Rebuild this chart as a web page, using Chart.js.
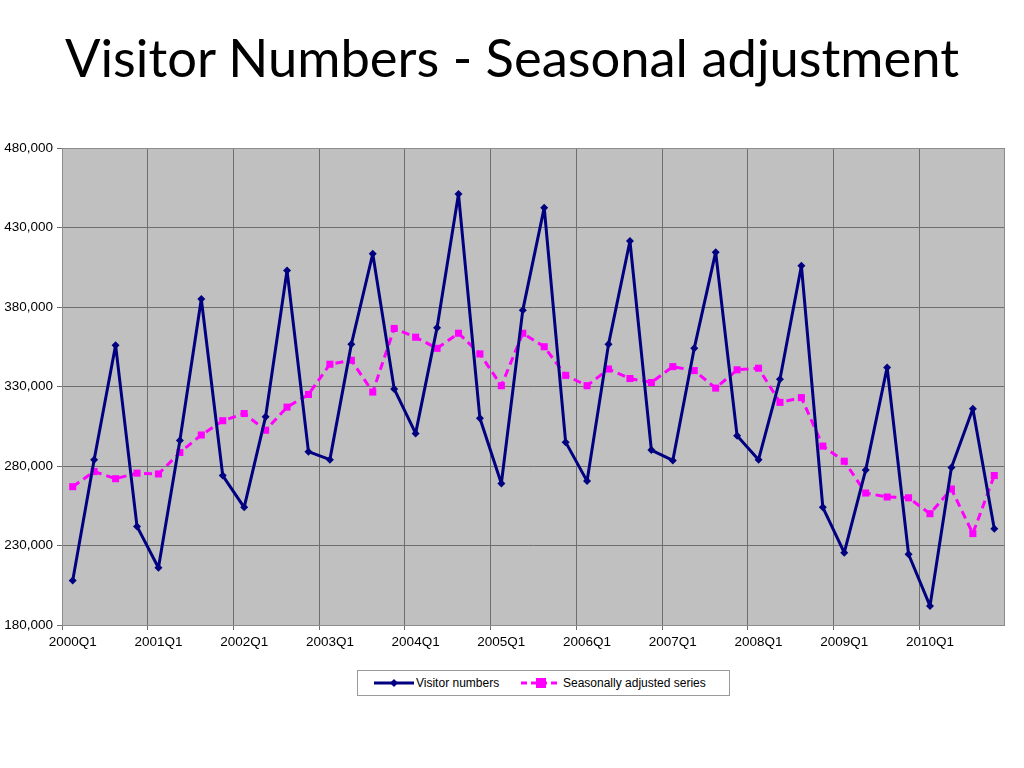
<!DOCTYPE html>
<html>
<head>
<meta charset="utf-8">
<script src="https://cdn.jsdelivr.net/npm/chart.js@4.4.1/dist/chart.umd.min.js"></script>
<style>
  body { margin: 0; background: #fff; }
  #wrap { position: relative; width: 1024px; height: 768px; overflow: hidden; }
  #title { position: absolute; left: 0; top: 25px; width: 1024px; text-align: center;
           font-family: Lato, "Open Sans", sans-serif; font-size: 52.5px; color: #000; }
  #chartbox { position: absolute; left: 0; top: 0; width: 1024px; height: 660px; }
  #legend { position: absolute; left: 357px; top: 670px; width: 371px; height: 24px;
            border: 1px solid #9a9a9a; font-family: Arial, "Liberation Sans", sans-serif;
            font-size: 12px; color: #000; }
  #legend span { position: absolute; top: 5px; }
  #legend svg { position: absolute; top: 6px; }
</style>
</head>
<body>
<div id="wrap">
  <div id="title">Visitor Numbers - Seasonal adjustment</div>
  <div id="chartbox"><canvas id="mycanvas" width="1024" height="660"></canvas></div>
  <div id="legend">
    <svg style="left:16px" width="40" height="12"><line x1="0" y1="6" x2="40" y2="6" stroke="#000080" stroke-width="3"/><polygon points="20,2 24,6 20,10 16,6" fill="#000080"/></svg>
    <span style="left:58px">Visitor numbers</span>
    <svg style="left:163px" width="40" height="12"><line x1="0" y1="6" x2="40" y2="6" stroke="#ff00ff" stroke-width="3" stroke-dasharray="6,4"/><rect x="15" y="1" width="10" height="10" fill="#ff00ff"/></svg>
    <span style="left:205px">Seasonally adjusted series</span>
  </div>
</div>
<script>
var quarters = [];
for (var yr = 2000; yr <= 2010; yr++) {
  for (var q = 1; q <= 4; q++) quarters.push(yr + "Q" + q);
}

var visitors = [
  208000, 284000, 356000, 242000,
  216000, 296000, 385000, 274000,
  254000, 311000, 403000, 289000,
  284000, 356500, 413500, 328500,
  300500, 367000, 451000, 310000,
  269000, 378000, 442500, 295000,
  270500, 356500, 421500, 290000,
  283500, 354000, 414500, 299000,
  284000, 334500, 406000, 254000,
  225500, 277500, 342000, 224500,
  192000, 279000, 316000, 240500
];

var adjusted = [
  267000, 276500, 272000, 275500,
  275000, 288500, 299500, 308500,
  313000, 302500, 317000, 325000,
  344000, 346500, 326500, 366500,
  361000, 354000, 363500, 350500,
  330500, 363500, 355000, 337000,
  330500, 341000, 335000, 332500,
  342500, 340000, 329000, 340500,
  341500, 320000, 323000, 292500,
  283000, 263000, 260500, 260000,
  250000, 265500, 237500, 274000
];

var yTicks = [180000, 230000, 280000, 330000, 380000, 430000, 480000];

var plotBg = {
  id: 'plotBg',
  beforeDraw: function(chart) {
    var a = chart.chartArea, c = chart.ctx;
    c.save();
    c.fillStyle = '#c0c0c0';
    c.fillRect(a.left, a.top, a.right - a.left, a.bottom - a.top);
    c.restore();
  },
  afterDraw: function(chart) {
    var a = chart.chartArea, c = chart.ctx;
    c.save();
    c.strokeStyle = '#8c8c8c';
    c.lineWidth = 1;
    c.strokeRect(a.left + 0.5, a.top + 0.5, a.right - a.left - 1, a.bottom - a.top);
    c.restore();
  }
};

var ctx = document.getElementById('mycanvas');
var lineGraph = new Chart(ctx, {
  type: 'line',
  data: {
    labels: quarters,
    datasets: [
      {
        label: 'Visitor numbers',
        data: visitors,
        borderColor: '#000080',
        backgroundColor: '#000080',
        borderWidth: 3,
        borderJoinStyle: 'round',
        pointStyle: 'rectRot',
        pointRadius: 4,
        pointBorderWidth: 0,
        tension: 0,
        order: 1
      },
      {
        label: 'Seasonally adjusted series',
        data: adjusted,
        borderColor: '#ff00ff',
        backgroundColor: '#ff00ff',
        borderWidth: 3,
        borderDash: [8, 5],
        borderJoinStyle: 'round',
        pointStyle: 'rect',
        pointRadius: 5,
        pointBorderWidth: 0,
        tension: 0,
        order: 2
      }
    ]
  },
  options: {
    responsive: false,
    animation: false,
    layout: { padding: { top: 148, right: 19, bottom: 0, left: 0 } },
    plugins: { legend: { display: false }, tooltip: { enabled: false } },
    scales: {
      x: {
        offset: true,
        grid: {
          offset: true,
          color: function(c) { return c.index % 4 === 0 ? '#6e6e6e' : 'rgba(0,0,0,0)'; },
          tickLength: 5
        },
        border: { display: false },
        ticks: {
          autoSkip: false,
          maxRotation: 0,
          padding: 4,
          color: '#000',
          font: { family: 'Arial', size: 13.5 },
          callback: function(v, i) { return i % 4 === 0 ? quarters[i] : ''; }
        },
        afterFit: function(s) { s.height = 35; }
      },
      y: {
        min: 180000,
        max: 480000,
        afterBuildTicks: function(s) { s.ticks = yTicks.map(function(v) { return { value: v }; }); },
        grid: { color: '#6e6e6e', tickLength: 5 },
        border: { display: false },
        ticks: {
          padding: 4,
          color: '#000',
          font: { family: 'Arial', size: 13.5 },
          callback: function(v) { return v.toLocaleString('en-US'); }
        },
        afterFit: function(s) { s.width = 62; }
      }
    }
  },
  plugins: [plotBg]
});
</script>
</body>
</html>
